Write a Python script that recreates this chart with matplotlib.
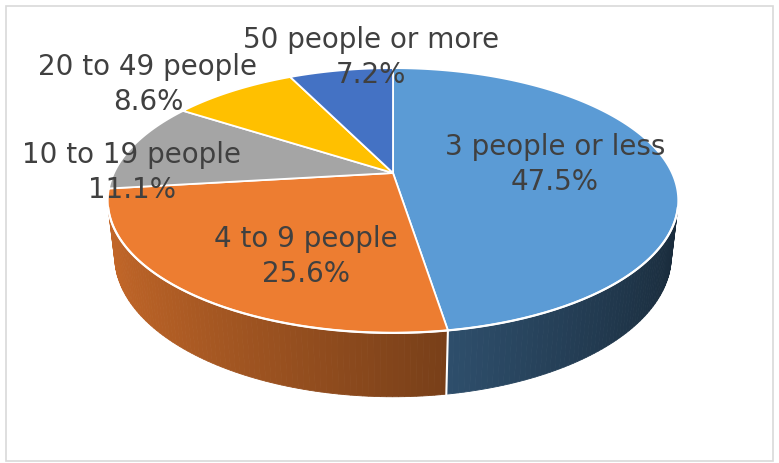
import numpy as np
import matplotlib.pyplot as plt
from matplotlib.patches import Polygon, Rectangle

# share of companies by number of employees
labels = ['3 people or less', '4 to 9 people', '10 to 19 people',
          '20 to 49 people', '50 people or more']
shares = [47.5, 25.6, 11.1, 8.6, 7.2]
colors = ['#5b9bd5', '#ed7d31', '#a5a5a5', '#ffc000', '#4472c4']

# where each label's first line sits (pixels)
label_pos = [(555, 147), (306, 239), (132, 155), (148, 67), (371, 40)]

# camera for the tilted disc
sin_e, cos_e = 0.454, 0.891
dist = 4.29
scale = 1197.0
thick = 0.225
cx, cy = 393.0, 173.0


def project(theta, z):
    x = np.sin(theta)
    y = np.cos(theta)
    d = dist + y * cos_e - z * sin_e
    sx = x / d
    sy = (y * sin_e + z * cos_e) / d
    return np.column_stack([cx + scale * sx, cy - scale * sy])


def shade(hexcol, theta):
    rgb = np.array([int(hexcol[i:i + 2], 16) for i in (1, 3, 5)]) / 255.0
    f = 0.55 - 0.28 * np.sin(theta)
    return np.clip(rgb * f, 0, 1)


fig = plt.figure(figsize=(7.79, 4.63), dpi=100)
ax = fig.add_axes([0, 0, 1, 1])
ax.set_xlim(0, 779)
ax.set_ylim(463, 0)
ax.axis('off')

ax.add_patch(Rectangle((6, 6), 767, 455, fill=False, edgecolor='#d9d9d9', lw=1.2))

total = sum(shares)
bounds = np.concatenate([[0], np.cumsum(shares)]) / total * 2 * np.pi

# outer wall is only seen where it faces the camera
vis = np.arccos(-1.0 / (dist * cos_e))
vis_lo, vis_hi = vis, 2 * np.pi - vis

for i in range(len(shares)):
    a0, a1 = max(bounds[i], vis_lo), min(bounds[i + 1], vis_hi)
    if a1 <= a0:
        continue
    steps = np.linspace(a0, a1, max(int(np.degrees(a1 - a0)), 2) + 1)
    for t0, t1 in zip(steps[:-1], steps[1:]):
        top = project(np.array([t0, t1]), 0)
        bot = project(np.array([t1, t0]), -thick)
        col = shade(colors[i], 0.5 * (t0 + t1))
        ax.add_patch(Polygon(np.vstack([top, bot]), closed=True,
                             facecolor=col, edgecolor=col, lw=0.6))

# white seams on the wall where slices meet
for b in bounds[1:-1]:
    if vis_lo < b < vis_hi:
        seg = np.vstack([project(np.array([b]), 0), project(np.array([b]), -thick)])
        ax.plot(seg[:, 0], seg[:, 1], color='white', lw=1.5)

# top face
for i in range(len(shares)):
    arc = project(np.linspace(bounds[i], bounds[i + 1], 200), 0)
    pts = np.vstack([[cx, cy], arc])
    ax.add_patch(Polygon(pts, closed=True, facecolor=colors[i],
                         edgecolor='white', lw=1.3, joinstyle='round'))

rim = project(np.linspace(vis_lo, vis_hi, 300), 0)
ax.plot(rim[:, 0], rim[:, 1], color='white', lw=1.6)

txt = dict(family='DejaVu Sans', fontsize=20,
           color='#404040', ha='center', va='center')
for name, val, (lx, ly) in zip(labels, shares, label_pos):
    ax.text(lx, ly, name, **txt)
    ax.text(lx, ly + 35, f'{val:.1f}%', **txt)

fig.savefig('out.png', dpi=100)
